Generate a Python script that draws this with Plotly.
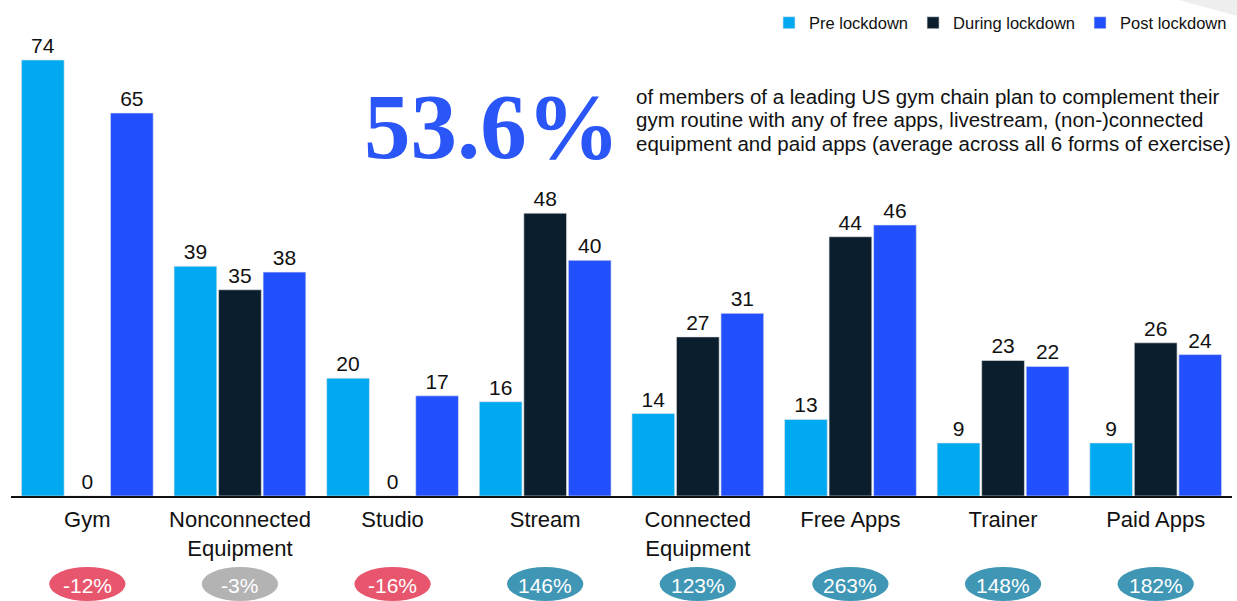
import plotly.graph_objects as go

categories = ["Gym", "Nonconnected<br>Equipment", "Studio", "Stream", "Connected<br>Equipment",
              "Free Apps", "Trainer", "Paid Apps"]
pre_lockdown = [74, 39, 20, 16, 14, 13, 9, 9]
during_lockdown = [0, 35, 0, 48, 27, 44, 23, 26]
post_lockdown = [65, 38, 17, 40, 31, 46, 22, 24]
change_labels = ["-12%", "-3%", "-16%", "146%", "123%", "263%", "148%", "182%"]
badge_colors = ["#E8566E", "#B3B3B3", "#E8566E", "#3F97B5", "#3F97B5", "#3F97B5", "#3F97B5", "#3F97B5"]

headline = "53.6%"
headline_lines = [
    "of members of a leading US gym chain plan to complement their",
    "gym routine with any of free apps, livestream, (non-)connected",
    "equipment and paid apps (average across all 6 forms of exercise)",
]

series = [
    ("Pre lockdown", pre_lockdown, "#00A9F0"),
    ("During lockdown", during_lockdown, "#0A1E2D"),
    ("Post lockdown", post_lockdown, "#2350FF"),
]

FONT = "Liberation Sans, Arial, sans-serif"
PLOT_H = 496.0  # plot area height in px (top margin 0)

def py(pixel_y):
    return (PLOT_H - pixel_y) / PLOT_H

def px(pixel_x):
    return (pixel_x - 11) / 1221.0

fig = go.Figure()
for name, vals, color in series:
    fig.add_trace(go.Bar(
        name=name, x=categories, y=vals,
        marker=dict(color=color, line=dict(color="#E6E6E6", width=0.6)),
        text=[str(v) for v in vals], textposition="outside",
        textfont=dict(size=21, color="#111111", family=FONT),
        cliponaxis=False, hoverinfo="skip",
    ))

shapes = [
    dict(type="path", xref="paper", yref="paper",
         path=f"M {px(1179)},{py(0)} L {px(1237)},{py(0)} L {px(1237)},{py(16)} Z",
         fillcolor="#EEEEEE", line=dict(width=0), layer="below"),
]
annotations = []
for i, (lab, col) in enumerate(zip(change_labels, badge_colors)):
    shapes.append(dict(type="circle", xref="x", yref="paper",
                       x0=i - 0.25, x1=i + 0.25, y0=py(601), y1=py(567),
                       fillcolor=col, line=dict(width=0)))
    annotations.append(dict(x=i, y=py(585), xref="x", yref="paper", text=lab,
                            showarrow=False, xanchor="center", yanchor="middle",
                            font=dict(size=21, color="white", family=FONT)))

annotations.append(dict(x=px(492), y=py(126), xref="paper", yref="paper", text="<b>" + headline + "</b>",
                        showarrow=False, xanchor="center", yanchor="middle",
                        font=dict(size=93, color="#2A55F7", weight="bold",
                                  family="Liberation Serif, Times New Roman, serif")))
for k, line in enumerate(headline_lines):
    annotations.append(dict(x=px(634), y=py(96 + 23.7 * k), xref="paper", yref="paper", text=line,
                            showarrow=False, xanchor="left", yanchor="middle", align="left",
                            font=dict(size=20.5, color="#111111", family=FONT)))

fig.update_layout(
    width=1237, height=601,
    margin=dict(l=11, r=5, t=0, b=105, autoexpand=False),
    paper_bgcolor="white", plot_bgcolor="white",
    barmode="group", bargap=0.125, bargroupgap=0.04,
    font=dict(family=FONT, color="#111111"),
    showlegend=True,
    legend=dict(orientation="h", x=1.0, xanchor="right", y=py(23), yanchor="middle",
                font=dict(size=16.5, color="#111111", family=FONT), bgcolor="rgba(0,0,0,0)",
                traceorder="normal"),
    xaxis=dict(showline=True, linecolor="#111111", linewidth=1.5, ticks="", showgrid=False,
               tickfont=dict(size=22, color="#111111", family=FONT), range=[-0.5, 7.5],
               ticklabelstandoff=3),
    yaxis=dict(range=[0, PLOT_H * 74 / 436], visible=False, showgrid=False, zeroline=False),
    shapes=shapes, annotations=annotations,
)

fig.write_html("out.html", config={"displayModeBar": False},
               post_script="document.body.style.margin='0';document.body.style.overflow='hidden';")
